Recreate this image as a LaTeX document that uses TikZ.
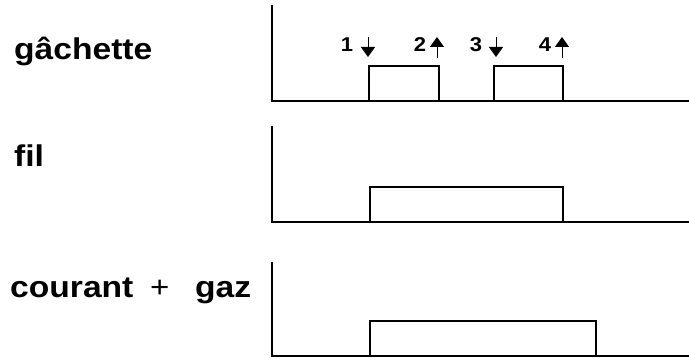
\documentclass[tikz,border=0pt]{standalone}
\usepackage{fontspec}
\usepackage{graphicx}
\setmainfont{Liberation Sans}
\usetikzlibrary{arrows.meta}
\tikzset{
  axis/.style={line width=2pt, line cap=rect},
  pulse/.style={line width=2pt},
  lbl/.style={anchor=base west, inner sep=0pt},
  num/.style={anchor=center, inner sep=0pt},
  arr/.style={line width=1pt, -{Triangle[width=14pt,length=10pt]}}
}
\newcommand{\bigtxt}[1]{\scalebox{1.12}[1]{\fontsize{30}{33}\selectfont\bfseries #1}}
\newcommand{\numtxt}[1]{\scalebox{1.1}[1]{\fontsize{20}{22}\selectfont\bfseries #1}}
\begin{document}
\begin{tikzpicture}[x=1pt,y=-1pt]
\useasboundingbox (0,0) rectangle (689,358);
% labels
\node[lbl] (g) at (14,60) {\bigtxt{gâchette}};
\node[lbl] (f) at (14,167) {\bigtxt{fil}};
\node[lbl] (c) at (10,298) {\bigtxt{courant}};
\node[lbl] (p) at (150,298) {\scalebox{1.1}[1]{\fontsize{30}{33}\selectfont +}};
\node[lbl] (z) at (195,298) {\bigtxt{gaz}};
% panel 1
\coordinate (t1) at (272,6); \coordinate (o1) at (272,101); \coordinate (e1) at (689,101);
\draw[axis] (t1) -- (o1) -- (e1);
\coordinate (a1) at (369,101); \coordinate (b1) at (369,66); \coordinate (c1) at (439,66); \coordinate (d1) at (439,101);
\draw[pulse] (a1) -- (b1) -- (c1) -- (d1);
\coordinate (a2) at (494,101); \coordinate (b2) at (494,66); \coordinate (c2) at (563,66); \coordinate (d2) at (563,101);
\draw[pulse] (a2) -- (b2) -- (c2) -- (d2);
% arrows and numbers
\node[num] (n1) at (347,45) {\numtxt{1}};
\node[num] (n2) at (420,45) {\numtxt{2}};
\node[num] (n3) at (476,45) {\numtxt{3}};
\node[num] (n4) at (545,45) {\numtxt{4}};
\coordinate (s1) at (368,37); \coordinate (h1) at (368,57);
\coordinate (s2) at (437,58); \coordinate (h2) at (437,37);
\coordinate (s3) at (496,37); \coordinate (h3) at (496,57);
\coordinate (s4) at (562,58); \coordinate (h4) at (562,37);
\draw[arr] (s1) -- (h1);
\draw[arr] (s2) -- (h2);
\draw[arr] (s3) -- (h3);
\draw[arr] (s4) -- (h4);
% panel 2
\coordinate (t2) at (272,127); \coordinate (o2) at (272,222); \coordinate (e2) at (689,222);
\draw[axis] (t2) -- (o2) -- (e2);
\coordinate (a3) at (370,222); \coordinate (b3) at (370,187); \coordinate (c3) at (563,187); \coordinate (d3) at (563,222);
\draw[pulse] (a3) -- (b3) -- (c3) -- (d3);
% panel 3
\coordinate (t3) at (272,263); \coordinate (o3) at (272,356); \coordinate (e3) at (689,356);
\draw[axis] (t3) -- (o3) -- (e3);
\coordinate (a4) at (370,356); \coordinate (b4) at (370,321); \coordinate (c4) at (596,321); \coordinate (d4) at (596,356);
\draw[pulse] (a4) -- (b4) -- (c4) -- (d4);
\end{tikzpicture}
\end{document}
